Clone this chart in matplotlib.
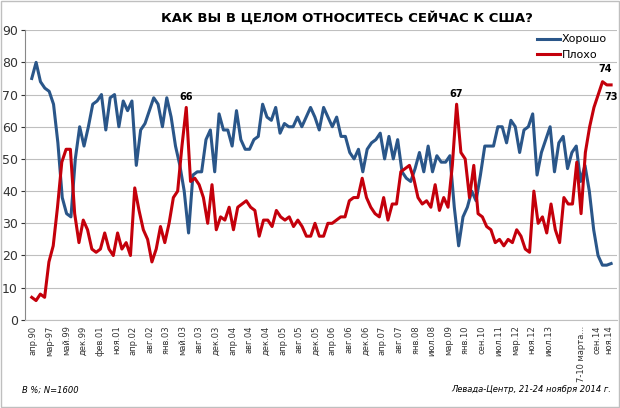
import numpy as np
import matplotlib
matplotlib.use("Agg")
import matplotlib.pyplot as plt

good = [75,80,74,72,71,67,55,38,33,32,50,60,54,60,67,68,70,59,69,70,60,68,65,68,48,59,61,65,69,67,60,69,63,54,48,40,27,45,46,46,56,59,46,64,59,59,54,65,56,53,53,56,57,67,63,62,66,58,61,60,60,63,60,63,66,63,59,
        66,63,60,63,57,57,52,50,53,46,53,55,56,58,50,57,50,56,46,44,43,47,52,46,54,46,51,49,49,51,35,23,32,35,40,37,45,54,54,54,60,60,55,62,60,52,59,60,64,45,52,56,60,46,55,57,47,52,54,43,48,40,28,20,17,17,17.5]
bad = [7,6,8,7,18,23,35,49,53,53,33,24,31,28,22,21,22,27,22,20,27,22,24,20,41,34,28,25,18,22,29,24,30,38,40,54,66,43,44,42,38,30,42,28,32,31,35,28,35,36,37,35,34,26,31,31,29,34,32,31,32,29,31,29,26,26,30,
       26,26,30,30,31,32,32,37,38,38,44,38,35,33,32,38,31,36,36,46,47,48,44,38,36,37,35,42,34,38,35,48,67,52,50,38,48,33,32,29,28,24,25,23,25,24,28,26,22,21,40,30,32,27,36,28,24,38,36,36,49,33,52,60,66,70,74,73,73]
tick_labels = ["апр.90","мар-97","май.99","дек.99","фев.01","ноя.01","апр.02","авг.02","янв.03","май.03",
               "авг.03","дек.03","апр.04","авг.04","дек.04","апр.05","авг.05","дек.05","апр.06","авг.06",
               "дек.06","апр.07","авг.07","янв.08","июл.08","мар.09","янв.10","сен.10","июл.11","мар.12",
               "ноя.12","июл.13","7-10 марта...","сен.14","ноя.14"]

fig = plt.figure(figsize=(6.2, 4.08), dpi=100)
ax = fig.add_axes([0.04, 0.216, 0.955, 0.71])
xg = np.linspace(0, 1, len(good))
xb = np.linspace(0, 1, len(bad))
blue = "#2A5689"; red = "#C4000B"
ax.plot(xg, good, color=blue, lw=2.2, label="Хорошо", solid_joinstyle="round")
ax.plot(xb, bad, color=red, lw=2.2, label="Плохо", solid_joinstyle="round")
ax.set_ylim(0, 90)
ax.set_xlim(-0.012, 1.01)
ax.set_yticks(range(0, 91, 10))
ax.yaxis.grid(True, color="#BFBFBF", lw=0.8)
ax.set_axisbelow(True)
for s in ["top", "right"]:
    ax.spines[s].set_visible(False)
ax.spines["left"].set_color("#888888")
ax.spines["bottom"].set_color("#BFBFBF")
ax.tick_params(axis="y", length=3, labelsize=9, colors="#333333", pad=2)
tpix = [27.5 + 16.7 * i for i in range(32)] + [578, 594, 606]
tpos = [(p - 26) / 582 for p in tpix]
ax.set_xticks(tpos)
ax.set_xticklabels(tick_labels, rotation=90, fontsize=6, color="#333333")
ax.tick_params(axis="x", length=0, pad=4)

bi = int(np.argmax(bad[:60])); ax.annotate("66", (xb[bi], bad[bi]), xytext=(0, 5), textcoords="offset points", ha="center", fontsize=7, fontweight="bold")
bj = 60 + int(np.argmax(bad[60:130])); ax.annotate("67", (xb[bj], bad[bj]), xytext=(0, 5), textcoords="offset points", ha="center", fontsize=7, fontweight="bold")
bk = len(bad) - 3; ax.annotate("74", (xb[bk], bad[bk]), xytext=(2, 7), textcoords="offset points", ha="center", fontsize=7, fontweight="bold")
ax.annotate("73", (xb[-1], bad[-1]), xytext=(0, -11), textcoords="offset points", ha="center", fontsize=7, fontweight="bold")

ax.legend(loc="upper right", bbox_to_anchor=(1.0, 1.02), frameon=False, fontsize=8, handlelength=2.0, handletextpad=0.2, labelspacing=0.5)
fig.text(0.56, 0.955, "КАК ВЫ В ЦЕЛОМ ОТНОСИТЕСЬ СЕЙЧАС К США?", ha="center", va="center", fontsize=9.5, fontweight="bold")
fig.text(0.035, 0.045, "В %; N=1600", fontsize=6, style="italic", va="center")
fig.text(0.985, 0.045, "Левада-Центр, 21-24 ноября 2014 г.", fontsize=6, style="italic", va="center", ha="right")
fig.patches.append(plt.Rectangle((0.002, 0.003), 0.996, 0.994, transform=fig.transFigure, fill=False, ec="#BFBFBF", lw=1))
fig.savefig("out.png", dpi=100)
